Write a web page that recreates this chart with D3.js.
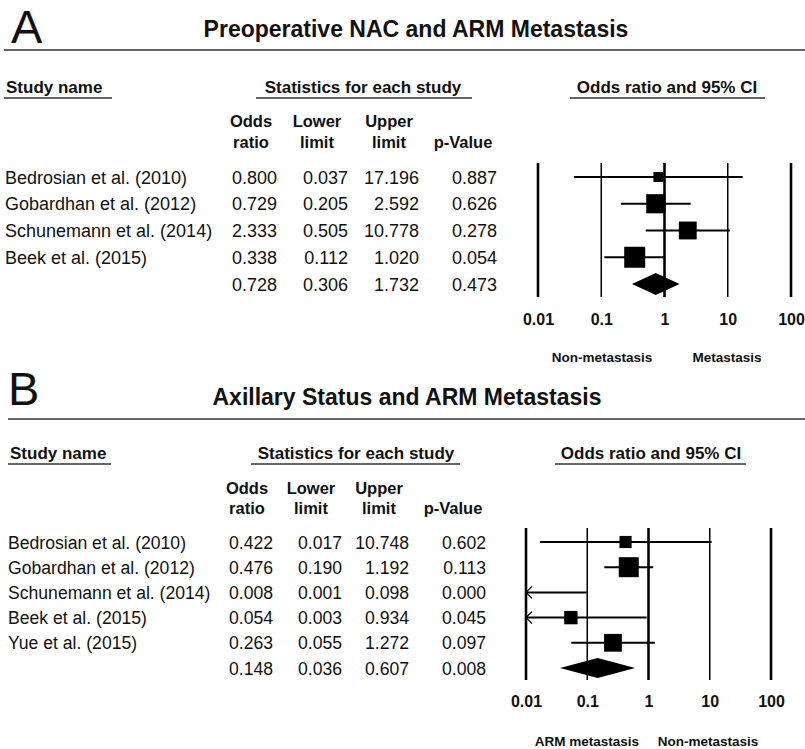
<!DOCTYPE html>
<html>
<head>
<meta charset="utf-8">
<script src="https://cdn.jsdelivr.net/npm/d3@7"></script>
<style>
  html, body { margin: 0; padding: 0; background: #fff; }
  svg { display: block; }
  text { font-family: "Liberation Sans", Arial, sans-serif; fill: #111; }
</style>
</head>
<body>
<svg id="chart" width="805" height="749"></svg>
<script>
// ---- Panel A: preoperative NAC ----
const studiesA = ["Bedrosian et al. (2010)", "Gobardhan et al. (2012)", "Schunemann et al. (2014)", "Beek et al. (2015)"];
const oddsA  = [0.800, 0.729, 2.333, 0.338];
const lowerA = [0.037, 0.205, 0.505, 0.112];
const upperA = [17.196, 2.592, 10.778, 1.020];
const pA     = [0.887, 0.626, 0.278, 0.054];
const weightA = [8, 30, 26, 36];          // relative study weights (square area)
const pooledA = [0.728, 0.306, 1.732, 0.473]; // OR, lower, upper, p

// ---- Panel B: axillary status ----
const studiesB = ["Bedrosian et al. (2010)", "Gobardhan et al. (2012)", "Schunemann et al. (2014)", "Beek et al. (2015)", "Yue et al. (2015)"];
const oddsB  = [0.422, 0.476, 0.008, 0.054, 0.263];
const lowerB = [0.017, 0.190, 0.001, 0.003, 0.055];
const upperB = [10.748, 1.192, 0.098, 0.934, 1.272];
const pB     = [0.602, 0.113, 0.000, 0.045, 0.097];
const weightB = [14, 38, 16, 17, 30];
const pooledB = [0.148, 0.036, 0.607, 0.008];

const tickValues = [0.01, 0.1, 1, 10, 100];
const tickLabels = ["0.01", "0.1", "1", "10", "100"];
const colHeads = [["Odds", "ratio"], ["Lower", "limit"], ["Upper", "limit"], ["", "p-Value"]];

const svg = d3.select("#chart");
const fmt = d3.format(".3f");

function drawPanel(cfg) {
  const g = svg.append("g");

  // panel letter and title
  g.append("text").attr("x", cfg.letterX).attr("y", cfg.letterY)
    .style("font-size", "47px").text(cfg.letter);
  g.append("text").attr("x", cfg.titleX).attr("y", cfg.titleY)
    .attr("text-anchor", "middle").style("font-size", "23px").style("font-weight", "bold")
    .text(cfg.title);
  g.append("line").attr("x1", cfg.ruleX).attr("x2", 805).attr("y1", cfg.ruleY).attr("y2", cfg.ruleY)
    .attr("stroke", "#333").attr("stroke-width", 1.6);

  // section headings with underlines
  cfg.sections.forEach(s => {
    g.append("text").attr("x", s.x).attr("y", cfg.headY)
      .attr("text-anchor", s.anchor).style("font-size", "17px").style("font-weight", "bold")
      .text(s.text);
    g.append("line").attr("x1", s.u0).attr("x2", s.u1).attr("y1", cfg.headY + 5).attr("y2", cfg.headY + 5)
      .attr("stroke", "#333").attr("stroke-width", 1.6);
  });

  // column sub-headings
  colHeads.forEach((h, i) => {
    h.forEach((line, j) => {
      if (!line) return;
      g.append("text").attr("x", cfg.colCenters[i]).attr("y", cfg.subY[j])
        .attr("text-anchor", "middle").style("font-size", "16.5px").style("font-weight", "bold")
        .text(line);
    });
  });

  // table rows (studies + pooled)
  const rows = cfg.studies.map((s, i) => ({
    name: s, or: cfg.odds[i], lo: cfg.lower[i], hi: cfg.upper[i], p: cfg.p[i], w: cfg.weight[i], pooled: false
  }));
  rows.push({ name: "", or: cfg.pooled[0], lo: cfg.pooled[1], hi: cfg.pooled[2], p: cfg.pooled[3], pooled: true });

  const y = d3.scalePoint().domain(d3.range(rows.length)).range([cfg.rowY0, cfg.rowY1]);

  const rowG = g.selectAll("g.row").data(rows).join("g").attr("class", "row")
    .attr("transform", (d, i) => `translate(0,${y(i)})`);
  rowG.append("text").attr("x", cfg.nameX).attr("y", 6.5)
    .style("font-size", cfg.bodySize).text(d => d.name);
  ["or", "lo", "hi", "p"].forEach((k, i) => {
    rowG.append("text").attr("x", cfg.numRight[i]).attr("y", 6.5)
      .attr("text-anchor", "end").style("font-size", cfg.bodySize).text(d => fmt(d[k]));
  });

  // forest plot
  const x = d3.scaleLog().domain([0.01, 100]).range([cfg.plotX0, cfg.plotX1]);
  const xc = v => x(Math.max(0.01, Math.min(100, v)));

  g.selectAll("line.grid").data(tickValues).join("line").attr("class", "grid")
    .attr("x1", d => x(d)).attr("x2", d => x(d))
    .attr("y1", cfg.gridY0).attr("y2", cfg.gridY1)
    .attr("stroke", "#000").attr("stroke-width", (d, i) => (i % 2 === 0 ? 2.6 : 1.5));

  const axis = d3.axisBottom(x).tickValues(tickValues)
    .tickFormat((d, i) => tickLabels[i]).tickSize(0).tickPadding(0);
  const ax = g.append("g").attr("transform", `translate(0,${cfg.tickY})`).call(axis);
  ax.select(".domain").remove();
  ax.selectAll("text").attr("dy", 0).attr("y", 0)
    .style("font-size", "16px").style("font-weight", "bold")
    .style("font-family", '"Liberation Sans", Arial, sans-serif').attr("fill", "#111");

  const side = d3.scaleSqrt().domain([0, d3.max(cfg.weight)]).range([0, cfg.maxSide]);
  const studyRows = rows.filter(d => !d.pooled);

  g.selectAll("line.ci").data(studyRows).join("line").attr("class", "ci")
    .attr("x1", d => xc(d.lo)).attr("x2", d => xc(d.hi))
    .attr("y1", (d, i) => y(i)).attr("y2", (d, i) => y(i))
    .attr("stroke", "#000").attr("stroke-width", 2);

  // arrows where an interval runs past the axis range
  studyRows.forEach((d, i) => {
    if (d.lo < 0.01) {
      const x0 = x(0.01);
      g.append("path").attr("d", `M${x0 + 6},${y(i) - 6}L${x0},${y(i)}L${x0 + 6},${y(i) + 6}`)
        .attr("fill", "none").attr("stroke", "#000").attr("stroke-width", 1.2);
    }
  });

  g.selectAll("rect.sq").data(studyRows.map((d, i) => ({ ...d, i })).filter(d => d.or >= 0.01 && d.or <= 100))
    .join("rect").attr("class", "sq")
    .attr("x", d => x(d.or) - side(d.w) / 2).attr("y", d => y(d.i) - side(d.w) / 2)
    .attr("width", d => side(d.w)).attr("height", d => side(d.w))
    .attr("fill", "#000");

  const pr = rows[rows.length - 1];
  const py = y(rows.length - 1);
  const h = cfg.diamondH / 2;
  g.append("path")
    .attr("d", `M${xc(pr.lo)},${py}L${x(pr.or)},${py - h}L${xc(pr.hi)},${py}L${x(pr.or)},${py + h}Z`)
    .attr("fill", "#000");

  cfg.footers.forEach(f => {
    g.append("text").attr("x", f.x).attr("y", cfg.footY).attr("text-anchor", "middle")
      .style("font-size", "13.5px").style("font-weight", "bold").text(f.text);
  });
}

drawPanel({
  letter: "A", letterX: 11, letterY: 43,
  title: "Preoperative NAC and ARM Metastasis", titleX: 416, titleY: 37,
  ruleX: 4, ruleY: 50,
  headY: 93,
  sections: [
    { text: "Study name", x: 6, anchor: "start", u0: 4, u1: 112 },
    { text: "Statistics for each study", x: 363, anchor: "middle", u0: 256, u1: 472 },
    { text: "Odds ratio and 95% CI", x: 667, anchor: "middle", u0: 570, u1: 765 }
  ],
  subY: [127, 148],
  colCenters: [251, 317, 389, 463],
  studies: studiesA, odds: oddsA, lower: lowerA, upper: upperA, p: pA, weight: weightA, pooled: pooledA,
  rowY0: 177, rowY1: 284,
  nameX: 5, bodySize: "18px",
  numRight: [277, 348, 419, 497],
  plotX0: 538, plotX1: 791, gridY0: 163, gridY1: 297,
  tickY: 325, maxSide: 21, diamondH: 22,
  footY: 362,
  footers: [{ text: "Non-metastasis", x: 602 }, { text: "Metastasis", x: 727 }]
});

drawPanel({
  letter: "B", letterX: 8, letterY: 405,
  title: "Axillary Status and ARM Metastasis", titleX: 407, titleY: 405,
  ruleX: 8, ruleY: 419,
  headY: 459,
  sections: [
    { text: "Study name", x: 10, anchor: "start", u0: 8, u1: 111 },
    { text: "Statistics for each study", x: 356, anchor: "middle", u0: 251, u1: 460 },
    { text: "Odds ratio and 95% CI", x: 651, anchor: "middle", u0: 555, u1: 746 }
  ],
  subY: [494, 514],
  colCenters: [247, 311, 379, 453],
  studies: studiesB, odds: oddsB, lower: lowerB, upper: upperB, p: pB, weight: weightB, pooled: pooledB,
  rowY0: 542, rowY1: 668,
  nameX: 8, bodySize: "17.6px",
  numRight: [273, 342, 409, 486],
  plotX0: 526, plotX1: 771, gridY0: 528, gridY1: 680,
  tickY: 707, maxSide: 20, diamondH: 20,
  footY: 746,
  footers: [{ text: "ARM metastasis", x: 587 }, { text: "Non-metastasis", x: 708 }]
});
</script>
</body>
</html>
